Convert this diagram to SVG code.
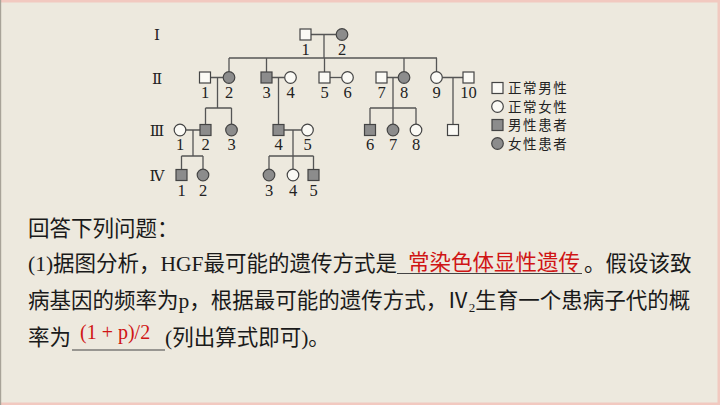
<svg xmlns="http://www.w3.org/2000/svg" width="720" height="405" viewBox="0 0 720 405">
<defs>
<style>
.ln{stroke:#555;stroke-width:1.3;fill:none}
.m{fill:#fbfaf5;stroke:#444;stroke-width:1.2}
.a{fill:#8c8c8c;stroke:#444;stroke-width:1.2}
.num{font-family:"Liberation Serif",serif;font-size:16.5px;fill:#222;text-anchor:middle}
.gen{font-family:"DejaVu Serif","Liberation Serif","Noto Sans CJK SC",serif;font-size:15px;fill:#222;text-anchor:middle}
.leg{font-family:"Noto Sans CJK SC",sans-serif;font-size:13.5px;fill:#222;letter-spacing:1.6px}
.t{font-family:"Liberation Serif","Noto Sans CJK SC",sans-serif;font-size:21.5px;fill:#1a1a1a}
.r{fill:#d01515}
</style>
</defs>
<rect x="0" y="0" width="720" height="405" fill="#ede9de"/>
<rect x="0" y="0" width="720" height="2.5" fill="#f2c9c0"/>
<rect x="717.5" y="0" width="2.5" height="405" fill="#f2c9c0"/>
<rect x="0" y="402.5" width="720" height="2.5" fill="#f2c9c0"/>
<rect x="0" y="0" width="1.2" height="405" fill="#a8a398"/>

<g id="generations">
<text class="gen" x="157" y="40">Ⅰ</text>
<text class="gen" x="157" y="83.5">Ⅱ</text>
<text class="gen" x="157" y="135.5">Ⅲ</text>
<text class="gen" x="157" y="180.5">Ⅳ</text>
</g>

<g id="connectors">
<path class="ln" d="M311 34.5H336.2M324 34.5V58M229 58H437M229 58V71.7M266.5 58V72M324.5 58V72M404 58V71.7M436.5 58V71.7"/>
<path class="ln" d="M210.5 77.5H223.2M217.5 77.5V108M205.5 108H231.5M205.5 108V124.5M231.5 108V124.2"/>
<path class="ln" d="M272 77.5H284.7M278.5 77.5V124.5"/>
<path class="ln" d="M330 77.5H341.7"/>
<path class="ln" d="M387 77.5H398.2M393 77.5V124.2M370 108H416M370 108V124.5M416 108V124.2"/>
<path class="ln" d="M442.3 77.5H463M453 77.5V124.5"/>
<path class="ln" d="M185.8 130H200M193 130V156M181.5 156H203M181.5 156V169.5M203 156V169.2"/>
<path class="ln" d="M284 130H301.7M293 130V169.2M269 156H313.5M269 156V169.2M313.5 156V169.5"/>
</g>

<g id="I-1"><rect class="m" x="300" y="29" width="11" height="11"/><text class="num" x="305.5" y="55">1</text></g>
<g id="I-2"><circle class="a" cx="342" cy="34.5" r="5.8"/><text class="num" x="342" y="55">2</text></g>

<g id="II-1"><rect class="m" x="199.5" y="72" width="11" height="11"/><text class="num" x="205" y="98">1</text></g>
<g id="II-2"><circle class="a" cx="229" cy="77.5" r="5.8"/><text class="num" x="229" y="98">2</text></g>
<g id="II-3"><rect class="a" x="261" y="72" width="11" height="11"/><text class="num" x="266.5" y="98">3</text></g>
<g id="II-4"><circle class="m" cx="290.5" cy="77.5" r="5.8"/><text class="num" x="290.5" y="98">4</text></g>
<g id="II-5"><rect class="m" x="319" y="72" width="11" height="11"/><text class="num" x="324.5" y="98">5</text></g>
<g id="II-6"><circle class="m" cx="347.5" cy="77.5" r="5.8"/><text class="num" x="347.5" y="98">6</text></g>
<g id="II-7"><rect class="m" x="376" y="72" width="11" height="11"/><text class="num" x="381.5" y="98">7</text></g>
<g id="II-8"><circle class="a" cx="404" cy="77.5" r="5.8"/><text class="num" x="404" y="98">8</text></g>
<g id="II-9"><circle class="m" cx="436.5" cy="77.5" r="5.8"/><text class="num" x="436.5" y="98">9</text></g>
<g id="II-10"><rect class="m" x="463" y="72" width="11" height="11"/><text class="num" x="468.5" y="98">10</text></g>

<g id="III-1"><circle class="m" cx="180" cy="130" r="5.8"/><text class="num" x="180" y="150">1</text></g>
<g id="III-2"><rect class="a" x="200" y="124.5" width="11" height="11"/><text class="num" x="205.5" y="150">2</text></g>
<g id="III-3"><circle class="a" cx="231.5" cy="130" r="5.8"/><text class="num" x="231.5" y="150">3</text></g>
<g id="III-4"><rect class="a" x="273" y="124.5" width="11" height="11"/><text class="num" x="278.5" y="150">4</text></g>
<g id="III-5"><circle class="m" cx="307.5" cy="130" r="5.8"/><text class="num" x="307.5" y="150">5</text></g>
<g id="III-6"><rect class="a" x="364.5" y="124.5" width="11" height="11"/><text class="num" x="370" y="150">6</text></g>
<g id="III-7"><circle class="a" cx="393" cy="130" r="5.8"/><text class="num" x="393" y="150">7</text></g>
<g id="III-8"><circle class="m" cx="416" cy="130" r="5.8"/><text class="num" x="416" y="150">8</text></g>
<g id="III-x"><rect class="m" x="447.5" y="124.5" width="11" height="11"/></g>

<g id="IV-1"><rect class="a" x="176" y="169.5" width="11" height="11"/><text class="num" x="181.5" y="195.5">1</text></g>
<g id="IV-2"><circle class="a" cx="203" cy="175" r="5.8"/><text class="num" x="203" y="195.5">2</text></g>
<g id="IV-3"><circle class="a" cx="269" cy="175" r="5.8"/><text class="num" x="269" y="195.5">3</text></g>
<g id="IV-4"><circle class="m" cx="293" cy="175" r="5.8"/><text class="num" x="293" y="195.5">4</text></g>
<g id="IV-5"><rect class="a" x="308" y="169.5" width="11" height="11"/><text class="num" x="313.5" y="195.5">5</text></g>

<g id="legend">
<rect class="m" x="492" y="82.5" width="11" height="11"/><text class="leg" x="508" y="93">正常男性</text>
<circle class="m" cx="497.5" cy="106.5" r="5.8"/><text class="leg" x="508" y="111.5">正常女性</text>
<rect class="a" x="492" y="119.5" width="11" height="11"/><text class="leg" x="508" y="130">男性患者</text>
<circle class="a" cx="497.5" cy="143.5" r="5.8"/><text class="leg" x="508" y="148.5">女性患者</text>
</g>

<g id="question">
<text class="t" x="28" y="236">回答下列问题：</text>
<text class="t" x="28" y="271">(1)据图分析，HGF最可能的遗传方式是</text>
<line x1="397" y1="273.5" x2="582" y2="273.5" stroke="#444" stroke-width="1.2"/>
<text class="t r" x="408" y="270">常染色体显性遗传</text>
<text class="t" x="584" y="271">。假设该致</text>
<text class="t" x="28" y="308">病基因的频率为p，根据最可能的遗传方式，<tspan>Ⅳ</tspan><tspan font-size="13" dy="4">2</tspan><tspan dy="-4">生育一个患病子代的概</tspan></text>
<text class="t" x="28" y="345">率为</text>
<line x1="72" y1="350" x2="165" y2="350" stroke="#444" stroke-width="1.2"/>
<text class="r" x="80" y="339" font-family="Liberation Serif, serif" font-size="20">(1 + p)/2</text>
<text class="t" x="165" y="345">(列出算式即可)。</text>
</g>
</svg>
